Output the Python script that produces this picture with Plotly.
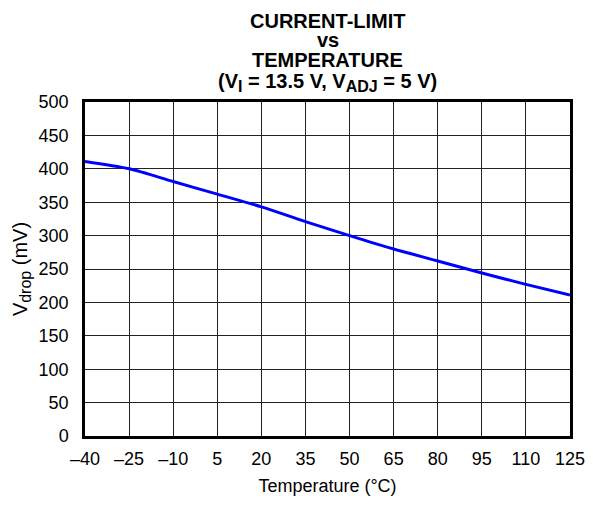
import plotly.graph_objects as go

# Current limit (dropout voltage) vs junction temperature
temperature_c = [-40, -25, -10, 5, 20, 35, 50, 65, 80, 95, 110, 125]
vdrop_mv = [411, 400, 381, 362, 343, 321, 300, 280, 262, 244, 227, 211]

x_ticks = [-40, -25, -10, 5, 20, 35, 50, 65, 80, 95, 110, 125]
x_tick_text = ["–40", "–25", "–10", "5", "20", "35", "50", "65", "80", "95", "110", "125"]
y_ticks = [0, 50, 100, 150, 200, 250, 300, 350, 400, 450, 500]


def sub(s, px):
    return f'<sub><span style="font-size:{px}px">{s}</span></sub>'


title_lines = [
    "CURRENT-LIMIT",
    "vs",
    "TEMPERATURE",
    f"(V{sub('I', 16)} = 13.5 V, V{sub('ADJ', 16)} = 5 V)",
]

FONT = "Liberation Sans, Arial, sans-serif"
W, H = 597, 506
L, R, T, B = 85, 16, 102, 67

fig = go.Figure()
fig.add_trace(go.Scatter(
    x=temperature_c, y=vdrop_mv, mode="lines",
    line=dict(color="#0000ff", width=3, shape="spline", smoothing=0.8),
    showlegend=False, hoverinfo="skip",
))

axis_common = dict(
    showgrid=True, gridcolor="#222222", gridwidth=1,
    showline=True, linecolor="black", linewidth=2.5, mirror=True,
    zeroline=False, ticks="", tickfont=dict(family=FONT, size=18, color="black"),
)

fig.update_xaxes(
    range=[-40, 125], tickmode="array", tickvals=x_ticks, ticktext=x_tick_text,
    title=dict(text="Temperature (°C)", font=dict(family=FONT, size=18, color="black"), standoff=12),
    ticklabelstandoff=5, **axis_common,
)
fig.update_yaxes(
    range=[0, 500], tickmode="array", tickvals=y_ticks,
    title=dict(text=f"V{sub('drop', 16)} (mV)", font=dict(family=FONT, size=20, color="black"), standoff=6),
    ticklabelstandoff=10, **axis_common,
)

# four-line bold heading with tight line pitch
plot_h = H - T - B
centers_px = [20, 39, 60, 82]
for text, cy in zip(title_lines, centers_px):
    fig.add_annotation(
        text=f"<b>{text}</b>", xref="paper", yref="paper",
        x=0.5, y=(H - B - cy) / plot_h, xanchor="center", yanchor="middle",
        showarrow=False, font=dict(family=FONT, size=20, color="black"),
    )

fig.update_layout(
    width=W, height=H, autosize=False,
    margin=dict(l=L, r=R, t=T, b=B),
    paper_bgcolor="white", plot_bgcolor="white",
)

fig.write_html("out.html", config={"responsive": False})
